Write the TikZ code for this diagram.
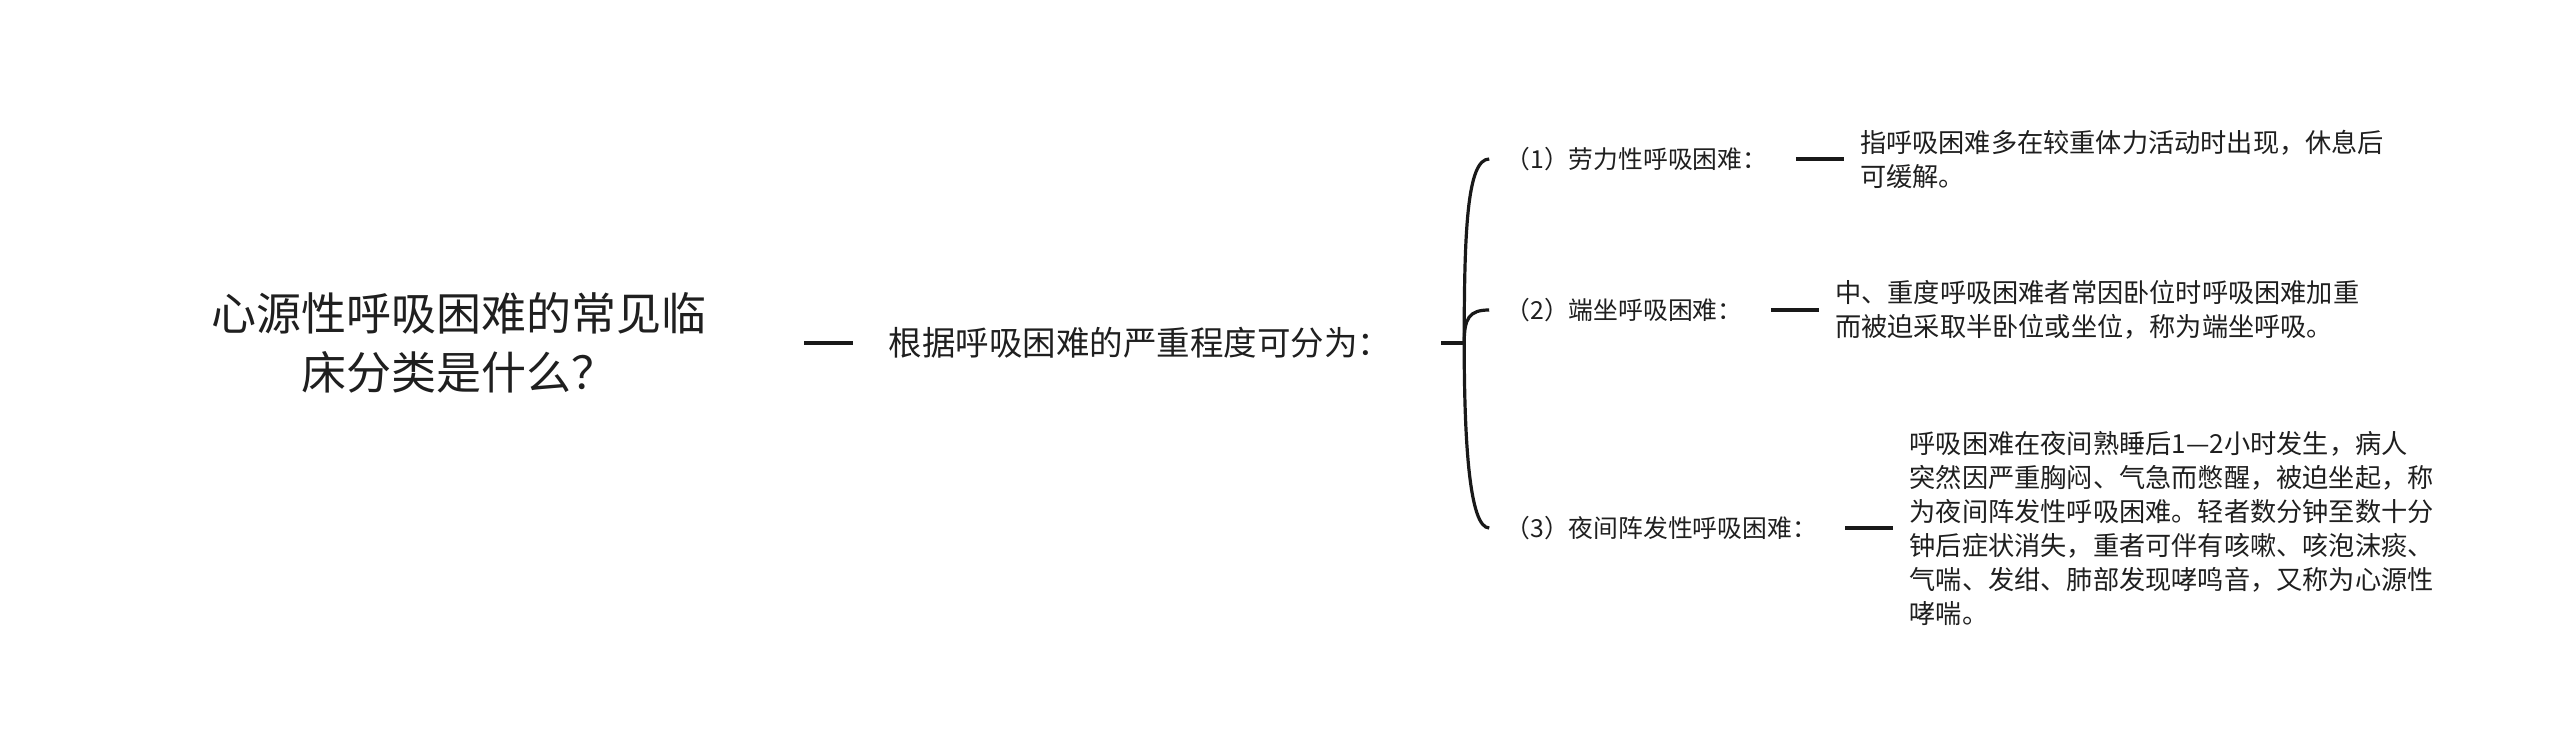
\documentclass[tikz,border=0pt]{standalone}
\usepackage{fontspec}
\setmainfont{Noto Sans CJK SC}
\usepackage{tikz}
\usetikzlibrary{calc,positioning}

\begin{document}
\begin{tikzpicture}[x=0.5pt,y=-0.5pt,
    every node/.style={inner sep=0pt,text=black!88},
    title/.style={font=\fontsize{22.5}{29.5}\selectfont,align=center},
    group/.style={font=\fontsize{16.75}{20}\selectfont},
    kind/.style={font=\fontsize{12.4}{14}\selectfont,inner xsep=8pt,anchor=west},
    note/.style={font=\fontsize{13.1}{17}\selectfont,align=left},
    bar/.style={draw=black!90,line width=1.8pt},
    branch/.style={draw=black!90,line width=1.6pt}]
%
  \useasboundingbox (0,0) rectangle (2560,755) ;
%
  \node [title] (root) at (459,343) {心源性呼吸困难的常见临\\床分类是什么？} ;
  \node [group,right=90.75pt of root] (grp) {根据呼吸困难的严重程度可分为：} ;
  \coordinate [right=36.25pt of grp] (fork) ;
%
  \node [kind] (k1) at ($(fork)+(25,-184)$) {（1）劳力性呼吸困难：} ;
  \node [kind] (k2) at ($(fork)+(25,-33)$)  {（2）端坐呼吸困难：} ;
  \node [kind] (k3) at ($(fork)+(25,185)$)  {（3）夜间阵发性呼吸困难：} ;
%
  \node [note,right=38pt of k1] (n1) {指呼吸困难多在较重体力活动时出现，休息后\\
    可缓解。} ;
  \node [note,right=38pt of k2] (n2) {中、重度呼吸困难者常因卧位时呼吸困难加重\\
    而被迫采取半卧位或坐位，称为端坐呼吸。} ;
  \node [note,right=38pt of k3] (n3) {呼吸困难在夜间熟睡后1—2小时发生，病人\\
    突然因严重胸闷、气急而憋醒，被迫坐起，称\\
    为夜间阵发性呼吸困难。轻者数分钟至数十分\\
    钟后症状消失，重者可伴有咳嗽、咳泡沫痰、\\
    气喘、发绀、肺部发现哮鸣音，又称为心源性\\
    哮喘。} ;
%
  \draw [bar,shorten <=48.75pt,shorten >=17.5pt] (root) -- (grp) ;
  \draw [branch,shorten <=24.75pt] (grp) -- (fork) ;
%
  \draw [branch] (fork) .. controls +(0,-113) and +(-22,0) .. (k1.west) ;
  \draw [branch] (fork) .. controls +(0,-25) and +(-20,0) .. (k2.west) ;
  \draw [branch] (fork) .. controls +(0,97) and +(-20,0) .. (k3.west) ;
%
  \draw [bar,shorten <=6pt,shorten >=8pt] (k1) -- (n1) ;
  \draw [bar,shorten <=6pt,shorten >=8pt] (k2) -- (n2) ;
  \draw [bar,shorten <=6pt,shorten >=8pt] (k3) -- (n3) ;
\end{tikzpicture}
\end{document}
